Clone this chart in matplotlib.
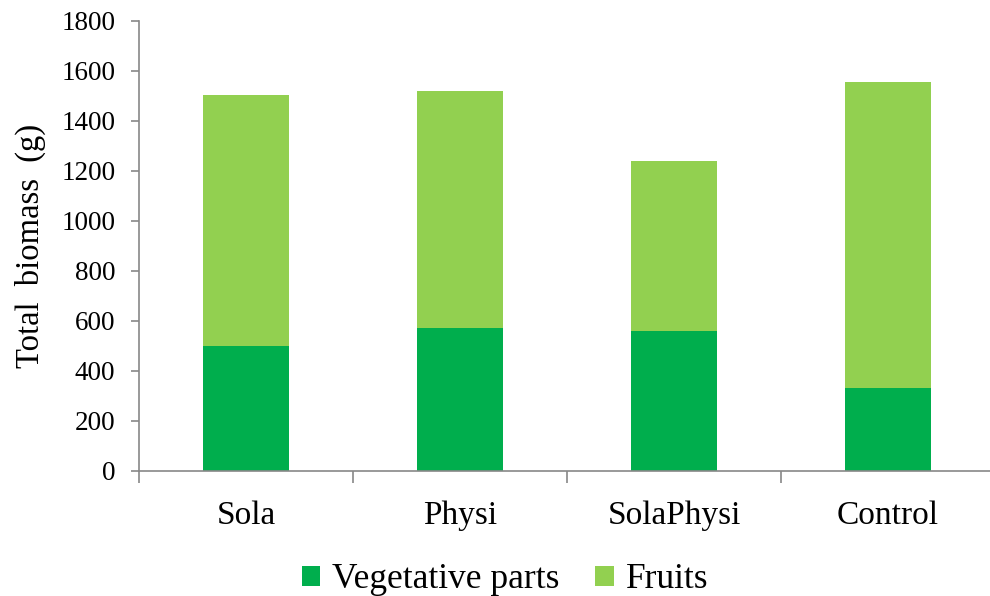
import matplotlib
matplotlib.use("Agg")
import matplotlib.pyplot as plt
import numpy as np

categories = ["Sola", "Physi", "SolaPhysi", "Control"]
vegetative = [500, 571, 561, 332]
fruits = [1005, 951, 679, 1226]
yticks = [0, 200, 400, 600, 800, 1000, 1200, 1400, 1600, 1800]

plt.rcParams['font.family'] = ['Liberation Serif', 'DejaVu Serif']

W, H = 990, 596
fig = plt.figure(figsize=(W/100, H/100), dpi=100)
ax = fig.add_axes([139/W, 1 - 471/H, (995 - 139)/W, (471 - 21)/H])

x = np.arange(len(categories))
c_veg = "#00AE4D"
c_fru = "#92D050"
ax.bar(x, vegetative, width=0.40, color=c_veg, label="Vegetative parts")
ax.bar(x, fruits, width=0.40, bottom=vegetative, color=c_fru, label="Fruits")

ax.set_xlim(-0.5, 3.5)
ax.set_ylim(0, 1800)
ax.set_yticks(yticks)
ax.set_yticklabels([str(t) for t in yticks], fontsize=19.5)
ax.set_xticks(x)
ax.set_xticklabels(categories, fontsize=24)
ax.set_xticks(np.arange(-0.5, 3.5, 1.0), minor=True)
ax.tick_params(axis='x', which='major', length=0, pad=21)
ax.tick_params(axis='x', which='minor', length=8.5, color='#888888', width=1.2)
ax.tick_params(axis='y', length=6, color='#888888', width=1.2, pad=11)

for s in ['top', 'right']:
    ax.spines[s].set_visible(False)
for s in ['left', 'bottom']:
    ax.spines[s].set_color('#888888')
    ax.spines[s].set_linewidth(1.2)

ax.set_ylabel("Total  biomass  (g)", fontsize=23.5, labelpad=11)

fig.legend(loc='center', bbox_to_anchor=(505/W, 1 - 580/H), ncol=2, frameon=False,
           fontsize=25.5, handlelength=0.52, handleheight=0.52, handletextpad=0.34,
           columnspacing=1.0)

fig.savefig("out.png", dpi=100)
